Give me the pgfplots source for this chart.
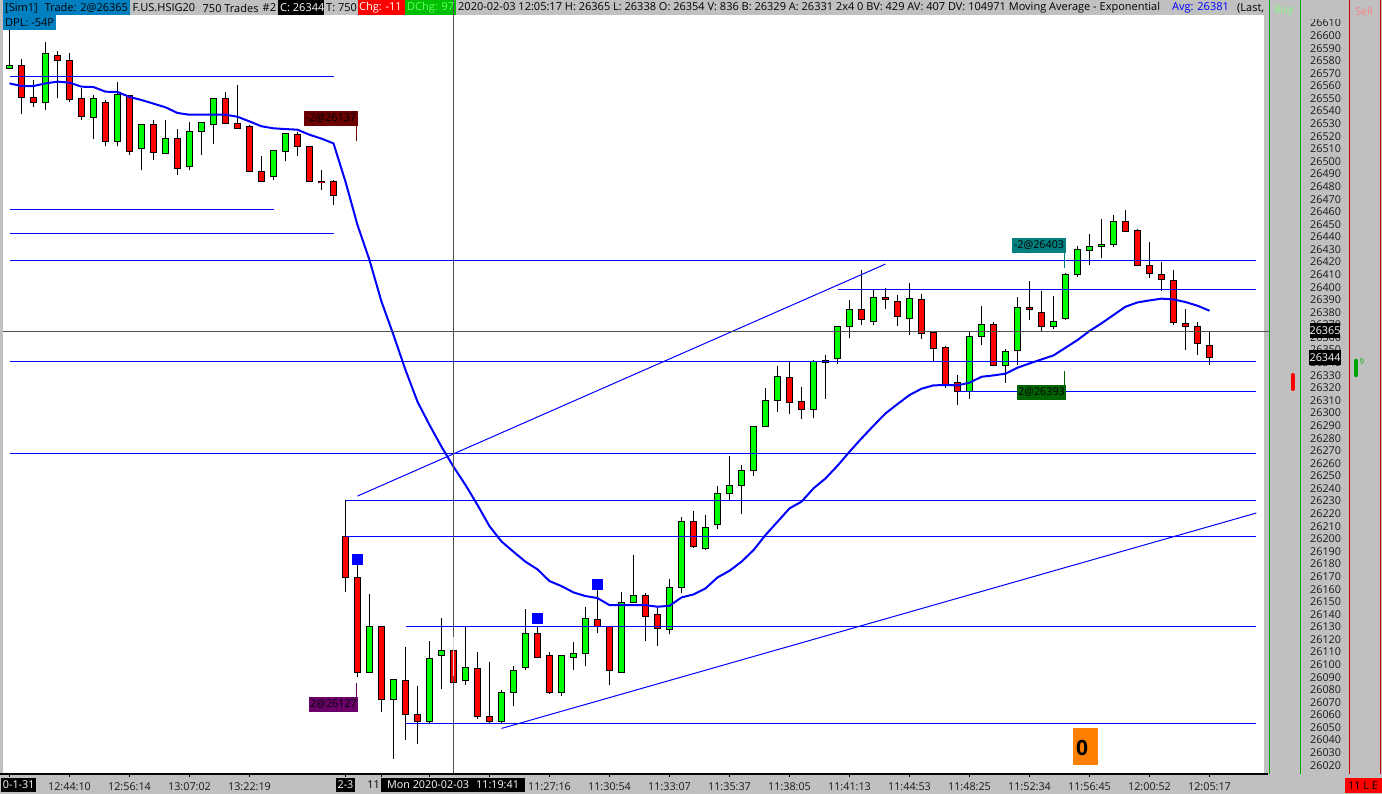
\documentclass[border=0pt]{standalone}
\usepackage{fontspec}
\setmainfont{Open Sans}
\usepackage{pgfplots}
\usepackage{pgfplotstable}
\pgfplotsset{compat=1.18}

\definecolor{panel}{HTML}{C0C0C0}
\definecolor{hdrblue}{HTML}{0080C0}
\definecolor{upbar}{HTML}{00FF00}
\definecolor{downbar}{HTML}{FF0000}
\definecolor{hair}{HTML}{505050}

% candles: bar index, low, body bottom, body top, high
\pgfplotstableread{
i l b t h
0 26574 26574 26576 26616
3 26541 26547 26586 26595
7 26518 26535 26550 26553
9 26512 26516 26553 26563
11 26493 26510 26529 26530
13 26506 26506 26518 26533
15 26493 26496 26524 26531
16 26505 26524 26531 26531
17 26514 26529 26550 26550
22 26485 26488 26509 26509
23 26500 26508 26522 26522
30 26094 26094 26130 26156
32 26025 26072 26088 26088
35 26054 26055 26105 26119
36 26081 26107 26111 26137
38 26084 26087 26098 26130
41 26053 26055 26078 26080
42 26067 26078 26095 26099
43 26096 26098 26125 26144
46 26075 26078 26107 26107
47 26096 26106 26109 26118
48 26099 26109 26137 26146
51 26094 26094 26149 26158
52 26149 26149 26155 26187
55 26124 26128 26161 26168
56 26157 26161 26214 26217
58 26191 26192 26209 26219
59 26208 26211 26236 26242
60 26230 26236 26242 26266
61 26220 26242 26254 26259
62 26250 26254 26289 26289
63 26289 26289 26310 26320
64 26301 26310 26329 26337
67 26296 26303 26341 26342
69 26339 26343 26369 26369
70 26360 26369 26382 26390
72 26370 26373 26392 26398
75 26362 26375 26391 26403
80 26311 26317 26361 26365
81 26354 26361 26370 26385
83 26324 26338 26349 26351
84 26338 26350 26384 26392
87 26367 26369 26373 26393
88 26374 26375 26410 26411
89 26408 26410 26430 26433
90 26418 26429 26432 26442
91 26423 26432 26434 26454
92 26432 26434 26452 26457
}\upcandles

\pgfplotstableread{
i l b t h
1 26538 26551 26576 26581
2 26543 26547 26551 26565
4 26550 26580 26584 26588
5 26547 26549 26580 26586
6 26533 26536 26550 26558
8 26512 26516 26547 26549
10 26505 26508 26552 26553
12 26501 26507 26529 26533
14 26489 26494 26518 26526
18 26530 26530 26550 26555
19 26526 26526 26530 26561
20 26492 26492 26528 26529
21 26484 26484 26492 26504
24 26504 26512 26521 26523
25 26484 26484 26512 26512
26 26477 26483 26484 26493
27 26465 26473 26484 26485
28 26158 26169 26202 26231
29 26090 26094 26169 26185
31 26062 26072 26130 26130
33 26040 26060 26087 26114
34 26037 26055 26060 26083
37 26071 26086 26111 26122
39 26057 26059 26097 26110
40 26054 26055 26059 26102
44 26106 26106 26125 26130
45 26077 26078 26107 26110
49 26125 26130 26136 26160
50 26084 26095 26130 26130
53 26119 26138 26155 26157
54 26115 26129 26140 26146
57 26193 26194 26214 26222
65 26299 26308 26328 26341
66 26295 26303 26309 26321
68 26311 26340 26342 26346
71 26370 26374 26382 26414
73 26383 26390 26392 26399
74 26369 26377 26389 26394
76 26359 26363 26390 26395
77 26341 26351 26364 26365
78 26320 26322 26352 26353
79 26306 26317 26324 26330
82 26338 26338 26370 26372
85 26374 26382 26384 26405
86 26365 26369 26380 26397
93 26444 26444 26452 26461
94 26417 26417 26445 26446
95 26407 26411 26417 26436
96 26397 26406 26410 26420
97 26370 26372 26405 26414
98 26350 26369 26371 26383
99 26346 26355 26369 26372
100 26338 26344 26354 26365
}\downcandles

% exponential moving average
\pgfplotstableread{
i v
0 26562.0
1 26559.9
2 26559.9
3 26562.0
4 26563.4
5 26562.6
6 26559.4
7 26559.1
8 26555.4
9 26555.2
10 26551.2
11 26548.8
12 26545.9
13 26543.0
14 26538.5
15 26537.1
16 26537.1
17 26537.1
18 26537.1
19 26535.5
20 26531.8
21 26527.9
22 26526.3
23 26525.7
24 26525.2
25 26521.2
26 26518.1
27 26514.3
28 26483.9
29 26449.4
30 26421.6
31 26388.5
32 26362.0
33 26334.2
34 26309.0
35 26290.5
36 26273.2
37 26257.3
38 26242.8
39 26226.9
40 26210.0
41 26197.9
42 26189.7
43 26181.8
44 26175.7
45 26166.4
46 26162.4
47 26157.4
48 26154.5
49 26152.9
50 26147.3
51 26147.3
52 26147.3
53 26147.3
54 26146.0
55 26146.8
56 26153.4
57 26155.8
58 26160.6
59 26169.3
60 26174.6
61 26181.8
62 26191.0
63 26203.0
64 26213.6
65 26224.2
66 26229.5
67 26240.1
68 26248.0
69 26258.1
70 26269.2
71 26279.8
72 26289.9
73 26299.7
74 26307.1
75 26314.3
76 26319.3
77 26322.0
78 26322.2
79 26322.0
80 26324.1
81 26328.8
82 26329.9
83 26331.3
84 26336.0
85 26339.4
86 26342.6
87 26345.8
88 26351.9
89 26358.0
90 26365.2
91 26371.3
92 26377.9
93 26384.5
94 26387.9
95 26389.5
96 26390.9
97 26390.3
98 26388.2
99 26385.3
100 26381.3
}\ema

\newcommand{\candles}[2]{%
  \addplot[draw=none, no markers, forget plot,
    error bars/.cd, y dir=plus, y explicit, error mark=none,
    error bar style={draw=black, line width=1pt}]
    table[x=i, y=l, y error plus expr=\thisrow{h}-\thisrow{l}] {#1};
  \addplot[draw=none, no markers, forget plot,
    error bars/.cd, y dir=plus, y explicit, error mark=none,
    error bar style={draw=black, line width=7pt}]
    table[x=i, y expr=\thisrow{b}-0.4, y error plus expr=\thisrow{t}-\thisrow{b}+0.8] {#1};
  \addplot[draw=none, no markers, forget plot,
    error bars/.cd, y dir=plus, y explicit, error mark=none,
    error bar style={draw=#2, line width=5pt}]
    table[x=i, y expr=\thisrow{b}+0.4, y error plus expr={max(\thisrow{t}-\thisrow{b}-0.8,0)}] {#1};
}
\newcommand{\hdr}[3][black]{\node[anchor=west, inner sep=0pt, text=#1, font=\hdrfont] at (#2,8) {#3};}
\newcommand{\hdrfont}{\fontsize{11}{12}\selectfont}

\begin{document}
\begin{tikzpicture}
\path[use as bounding box] (0,0) rectangle (1382pt,794pt);
\begin{scope}[x=1pt,y=-1pt,yshift=794pt]
  \fill[panel] (0,0) rectangle (1382,794);
  \fill[white] (3,15) rectangle (1264,774);
\end{scope}

\begin{axis}[
  at={(3pt,20pt)}, anchor=south west,
  width=1261pt, height=759pt, scale only axis,
  xmin=-0.54167, xmax=104.54167,
  ymin=26013.07, ymax=26616.38,
  axis x line*=bottom, axis y line*=right,
  x axis line style={black, line width=1.5pt},
  y axis line style={draw=none},
  xtick={0,5,10,15,20,28,31,35,40,45,50,55,60,65,70,75,80,85,90,95,100},
  xticklabels={,12:44:10,12:56:14,13:07:02,13:22:19,,,,,11:27:16,11:30:54,11:33:07,11:35:37,11:38:05,11:41:13,11:44:53,11:48:25,11:52:34,11:56:45,12:00:52,12:05:17},
  x tick style={black, line width=1pt},
  tick align=outside, major tick length=3pt,
  x tick label style={inner sep=0pt, yshift=-5pt, font=\fontsize{10.8}{12}\selectfont},
  ytick distance=10,
  scaled y ticks=false,
  y tick style={draw=none},
  y tick label style={anchor=west, inner sep=0pt, xshift=43pt, font=\fontsize{10.8}{12}\selectfont,
    /pgf/number format/fixed, /pgf/number format/precision=0,
    /pgf/number format/1000 sep={}, /pgf/number format/assume math mode=true},
  tick label style={text=black!90},
]
\candles{\upcandles}{upbar}
\candles{\downcandles}{downbar}

% horizontal levels and trend lines
\addplot[blue, line width=1pt] coordinates {(0,26567.6) (27,26567.6)};
\addplot[blue, line width=1pt] coordinates {(0,26461.8) (22,26461.8)};
\addplot[blue, line width=1pt] coordinates {(0,26442.3) (27,26442.3)};
\addplot[blue, line width=1pt] coordinates {(0,26421.6) (103.9,26421.6)};
\addplot[blue, line width=1pt] coordinates {(69,26398.3) (103.9,26398.3)};
\addplot[blue, line width=1pt] coordinates {(0,26341) (103.9,26341)};
\addplot[blue, line width=1pt] coordinates {(79,26316.9) (103.9,26316.9)};
\addplot[blue, line width=1pt] coordinates {(0,26267.9) (103.9,26267.9)};
\addplot[blue, line width=1pt] coordinates {(28,26230.6) (103.9,26230.6)};
\addplot[blue, line width=1pt] coordinates {(28,26202) (103.9,26202)};
\addplot[blue, line width=1pt] coordinates {(33,26130.4) (103.9,26130.4)};
\addplot[blue, line width=1pt] coordinates {(33,26053.3) (103.9,26053.3)};
\addplot[blue, line width=1pt] coordinates {(29,26234) (73,26418.4)};
\addplot[blue, line width=1pt] coordinates {(41,26049.3) (103.9,26220.5)};

\addplot[blue, line width=2pt] table[x=i, y=v] {\ema};
\addplot[only marks, mark=square*, mark size=5pt, mark options={blue, draw=blue}]
  coordinates {(29,26183.9) (44,26137) (49,26164)};
\end{axis}

\begin{scope}[x=1pt,y=-1pt,yshift=794pt]
  \def\tf{\fontsize{10.8}{12}\selectfont}
  % crosshair
  \draw[hair, line width=1pt] (3,331.5) -- (1269,331.5);
  \draw[hair, line width=1pt] (453.5,0) -- (453.5,774);
  \draw[black!15, line width=1pt] (453.5,637) -- (453.5,676);
  \draw[black, line width=1.5pt] (0,774) -- (1268,774);
  % price panel
  \draw[green!65!black, line width=1pt] (1269.5,0) -- (1269.5,774);
  \draw[green!65!black, line width=1pt] (1300.5,0) -- (1300.5,774);
  \draw[red!80!black, line width=1pt] (1349.5,0) -- (1349.5,774);
  \draw[red!80!black, line width=1pt] (1380.5,0) -- (1380.5,774);
  \fill[panel] (1302,0) rectangle (1348,19);
  \node[text=green!50!white, inner sep=0pt, font=\tf] at (1284,11) {Buy};
  \node[text=red!50!white, inner sep=0pt, font=\tf] at (1364,11) {Sell};
  \node[fill=black, text=white, inner sep=0pt, minimum width=30pt, minimum height=15pt, font=\tf] at (1325,331) {26365};
  \node[fill=black, text=white, inner sep=0pt, minimum width=32pt, minimum height=15pt, font=\tf] at (1325,357.5) {26344};
  \draw[red, line width=4pt, line cap=round] (1292.5,375) -- (1292.5,389);
  \draw[green!65!black, line width=4.5pt, line cap=round] (1356,361) -- (1356,375);
  \node[text=green!70!black, font=\fontsize{8}{9}\selectfont, inner sep=0pt] at (1362,362) {9};
  % header
  \fill[panel] (0,0) rectangle (1264,15);
  \fill[hdrblue] (3,0) rectangle (130,15);
  \fill[hdrblue] (3,15) rectangle (56,30);
  \fill[black] (278,0) rectangle (324,15);
  \fill[red] (358,0) rectangle (405,15);
  \fill[green!75!black] (405,0) rectangle (456,15);
  \draw[hair, line width=1pt] (453.5,0) -- (453.5,15);
  \hdr{5}{[Sim1]\hspace{7pt}Trade: 2@26365}
  \node[anchor=west, inner sep=0pt, font=\hdrfont] at (5,23) {DPL: -54P};
  \hdr{132.5}{F.US.HSIG20}
  \hdr{202.5}{750 Trades}
  \hdr{262.5}{\#2}
  \hdr[white]{280}{C: 26344}
  \hdr{326}{T: 750}
  \hdr[white]{359}{Chg: -11}
  \hdr[green!60!white]{407}{DChg: 97}
  \hdr{458}{2020-02-03 12:05:17 H: 26365 L: 26338 O: 26354 V: 836 B: 26329 A: 26331 2x4 0 BV: 429 AV: 407 DV: 104971 Moving Average - Exponential}
  \hdr[blue]{1172}{Avg: 26381}
  \begin{scope}
    \clip (1230,0) rectangle (1264,15);
    \hdr{1237}{(Last, 2}
  \end{scope}
  % trade flags
  \definecolor{flagred}{HTML}{6B0000}
  \definecolor{flagpur}{HTML}{6B006B}
  \definecolor{flagteal}{HTML}{007F7F}
  \definecolor{flaggrn}{HTML}{006400}
  \fill[flagred] (304,111) rectangle (358,126);
  \draw[flagred, line width=1pt] (356.5,126) -- (356.5,141);
  \node[inner sep=0pt, font=\tf] at (331,118.5) {-2@26137};
  \fill[flagpur] (309,697) rectangle (358,712);
  \draw[flagpur, line width=1pt] (356.5,683) -- (356.5,697);
  \node[inner sep=0pt, font=\tf] at (333.5,704.5) {2@26127};
  \fill[flagteal] (1012,238) rectangle (1066,253);
  \draw[flagteal, line width=1pt] (1064.5,253) -- (1064.5,268);
  \node[inner sep=0pt, font=\tf] at (1039,245.5) {-2@26403};
  \fill[flaggrn] (1017,385) rectangle (1066,400);
  \draw[flaggrn, line width=1pt] (1064.5,371) -- (1064.5,385);
  \node[inner sep=0pt, font=\tf] at (1041.5,392.5) {2@26393};
  % position box
  \fill[orange!100!red] (1073,728) rectangle (1098,765);
  \node[inner sep=0pt, font=\fontsize{21}{24}\selectfont\bfseries] at (1082,748) {0};
  % time axis boxes
  \node[fill=black, text=white, inner sep=0pt, minimum width=34.5pt, minimum height=14pt, font=\tf] at (18.7,785) {0-1-31};
  \node[fill=black, text=white, inner sep=0pt, minimum width=19pt, minimum height=14pt, font=\tf] at (345.5,785) {2-3};
  \node[inner sep=0pt, font=\tf] at (373.5,785) {11};
  \node[fill=black, text=white, inner sep=0pt, minimum width=144pt, minimum height=14pt, font=\tf] at (453,785) {Mon 2020-02-03\hspace{7pt}11:19:41};
  \node[fill=red, inner sep=0pt, minimum width=37pt, minimum height=15pt, font=\tf] at (1363,786) {11 L E};
\end{scope}
\end{tikzpicture}
\end{document}
